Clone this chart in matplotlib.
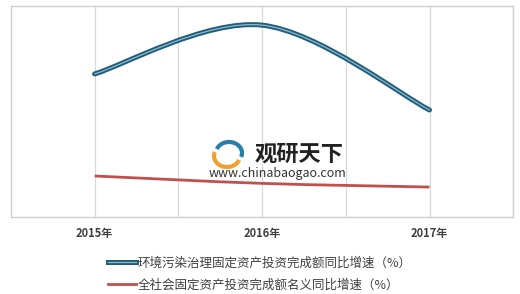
import numpy as np
import matplotlib
matplotlib.use("Agg")
import matplotlib.pyplot as plt
from matplotlib.path import Path
from matplotlib.patches import PathPatch, Arc
from matplotlib.lines import Line2D

plt.rcParams['font.family'] = ['Noto Sans CJK SC', 'DejaVu Sans']

# 数据
years = ['2015年', '2016年', '2017年']
env_growth = [34.9, 46.8, 26.1]      # 环境污染治理固定资产投资完成额同比增速
total_growth = [10.0, 8.2, 7.3]      # 全社会固定资产投资完成额名义同比增速
names = ['环境污染治理固定资产投资完成额同比增速（%）',
         '全社会固定资产投资完成额名义同比增速（%）']


def smooth_path(xs, ys):
    # curva suavizada tipo Excel (Bezier cubica)
    pts = np.column_stack([xs, ys]).astype(float)
    n = len(pts)
    verts = [pts[0]]
    codes = [Path.MOVETO]
    for i in range(n - 1):
        p0 = pts[i - 1] if i > 0 else pts[i]
        p1 = pts[i]
        p2 = pts[i + 1]
        p3 = pts[i + 2] if i + 2 < n else pts[i + 1]
        c1 = p1 + (p2 - p0) / 6.0
        c2 = p2 - (p3 - p1) / 6.0
        verts += [c1, c2, p2]
        codes += [Path.CURVE4] * 3
    return Path(verts, codes)


fig = plt.figure(figsize=(5.2, 2.94), dpi=100)
ax = fig.add_axes([0.021, 0.262, 0.966, 0.718])
x = np.arange(len(years))

p_env = smooth_path(x, env_growth)
ax.add_patch(PathPatch(p_env, fill=False, lw=3.6, edgecolor='#1f5d7a', capstyle='round'))
ax.add_patch(PathPatch(p_env, fill=False, lw=0.9, edgecolor='#8db9cf', capstyle='round'))
ax.add_patch(PathPatch(smooth_path(x, total_growth), fill=False, lw=2.0, edgecolor='#c0504d'))

ax.set_xlim(-0.5, 2.5)
ax.set_ylim(0, 51.5)
ax.set_xticks([])
for g in np.arange(0, 2.01, 0.5):
    ax.axvline(g, color='#d9d9d9', lw=0.9, zorder=0)
ax.set_yticks([])
for s in ax.spines.values():
    s.set_color('#d0d0d0')
    s.set_linewidth(1.0)

for i, lab in enumerate(years):
    ax.text(x[i], -0.08, lab, transform=ax.get_xaxis_transform(), ha='center', va='center',
            fontsize=8, color='#404040', fontweight='bold')

# marca de agua (logo aproximado)
fig.patches.append(Arc((227 / 520, 1 - 156 / 294), 0.05, 0.075, theta1=150, theta2=330,
                       lw=3, color='#f0a030', transform=fig.transFigure))
fig.patches.append(Arc((229 / 520, 1 - 153 / 294), 0.05, 0.075, theta1=-30, theta2=150,
                       lw=3, color='#2a7fa8', transform=fig.transFigure))
ax.text(0.953, 15.3, '观研天下', ha='left', va='center', fontsize=16, fontweight='bold', color='#222222')
ax.text(0.683, 10.6, 'www.chinabaogao.com', ha='left', va='center', fontsize=9, color='#333333')

# leyenda
h1 = (Line2D([], [], color='#1f5d7a', lw=3.6), Line2D([], [], color='#8db9cf', lw=0.9))
h2 = Line2D([], [], color='#c0504d', lw=2.0)
leg = fig.legend([h1, h2], names, loc='center', bbox_to_anchor=(0.5, 0.068), ncol=1,
                 frameon=False, fontsize=9, handlelength=2.2, handletextpad=0.15,
                 labelspacing=0.75, borderpad=0.1)
for t in leg.get_texts():
    t.set_color('#404040')

fig.savefig('out.png', dpi=100)
